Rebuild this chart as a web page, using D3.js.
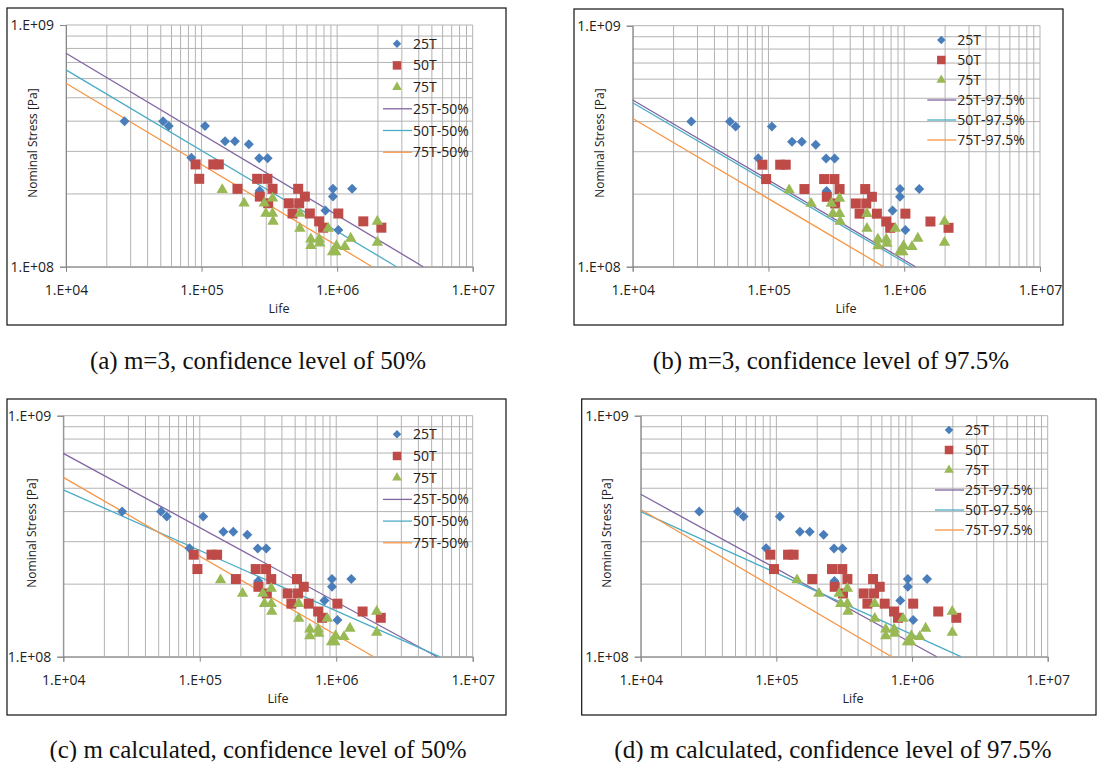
<!DOCTYPE html>
<html><head><meta charset="utf-8">
<script src="https://cdn.jsdelivr.net/npm/d3@7"></script>
<style>body{margin:0;background:#fff}svg{display:block}</style>
</head><body><svg id="c" width="1099" height="762"></svg>
<script>
// ---------------- data ----------------
const seriesNames = ["25T", "50T", "75T"];
const life25T   = [27000, 52000, 57300, 106000, 149000, 176000, 223000, 84100, 266000, 307000, 268000, 931000, 1290000, 931000, 820000, 1020000];
const stress25T = [4.0e8, 4.0e8, 3.82e8, 3.82e8, 3.30e8, 3.30e8, 3.21e8, 2.82e8, 2.81e8, 2.81e8, 2.06e8, 2.10e8, 2.10e8, 1.95e8, 1.71e8, 1.42e8];
const life50T   = [90300, 96100, 122000, 134000, 184000, 257000, 306000, 269000, 334000, 310000, 440000, 469000, 516000, 525000, 578000, 629000, 737000, 788000, 1020000, 1560000, 2120000];
const stress50T = [2.65e8, 2.31e8, 2.65e8, 2.65e8, 2.10e8, 2.31e8, 2.31e8, 1.95e8, 2.10e8, 1.83e8, 1.83e8, 1.66e8, 2.10e8, 1.83e8, 1.95e8, 1.66e8, 1.54e8, 1.45e8, 1.66e8, 1.54e8, 1.45e8];
const life75T   = [142000, 206000, 290000, 334000, 298000, 334000, 337000, 531000, 531000, 640000, 640000, 737000, 745000, 859000, 925000, 978000, 989000, 1140000, 1260000, 1980000, 1980000];
const stress75T = [2.08e8, 1.83e8, 1.83e8, 1.92e8, 1.66e8, 1.66e8, 1.54e8, 1.66e8, 1.44e8, 1.30e8, 1.22e8, 1.30e8, 1.25e8, 1.44e8, 1.15e8, 1.15e8, 1.22e8, 1.21e8, 1.31e8, 1.54e8, 1.26e8];

const fitNames50  = ["25T-50%", "50T-50%", "75T-50%"];
const fitNames975 = ["25T-97.5%", "50T-97.5%", "75T-97.5%"];
// fitted S-N lines: [start point, end point] as [life, stress]
const fitA = [[[1e4, 7.64e8], [4.31e6, 1e8]], [[1e4, 6.52e8], [2.74e6, 1e8]], [[1e4, 5.74e8], [1.81e6, 1e8]]];
const fitB = [[[1e4, 4.92e8], [1.21e6, 1e8]], [[1e4, 4.79e8], [1.14e6, 1e8]], [[1e4, 4.12e8], [7.05e5, 1e8]]];
const fitC = [[[1e4, 6.98e8], [5.47e6, 1e8]], [[1e4, 4.92e8], [5.71e6, 1e8]], [[1e4, 5.55e8], [1.88e6, 1e8]]];
const fitD = [[[1e4, 4.72e8], [1.52e6, 1e8]], [[1e4, 4.00e8], [2.29e6, 1e8]], [[1e4, 4.08e8], [7.08e5, 1e8]]];

const captions = ["(a) m=3, confidence level of 50%", "(b) m=3, confidence level of 97.5%",
                  "(c) m calculated, confidence level of 50%", "(d) m calculated, confidence level of 97.5%"];
const xTickValues = [1e4, 1e5, 1e6, 1e7];
const xTickLabels = ["1.E+04", "1.E+05", "1.E+06", "1.E+07"];
const yTickValues = [1e8, 1e9];
const yTickLabels = ["1.E+08", "1.E+09"];
const xTitle = "Life";
const yTitle = "Nominal Stress [Pa]";

// ---------------- layout & style ----------------
const markerColors = ["#4a7ebb", "#be4b48", "#98b954"];
const lineColors = ["#8064a2", "#4bacc6", "#f79646"];
const font = "'Open Sans', 'Noto Sans', sans-serif";

const panels = [
  {frame: [7, 8, 506, 325],  plot: [66, 25, 472.7, 266.7],   legend: [413, 43.7, 21.7], xT: [279, 313], yT: [33, 143],  cap: [258, 369], fits: fitA, fitNames: fitNames50},
  {frame: [574, 9, 1063, 325], plot: [632.7, 25.7, 1040, 266.7], legend: [957.3, 40, 20], xT: [846, 313], yT: [600, 143], cap: [831, 369], fits: fitB, fitNames: fitNames975},
  {frame: [7, 399, 506, 715], plot: [63.3, 415.7, 472.7, 656.7], legend: [413, 434.3, 21.7], xT: [278, 703], yT: [31.7, 533], cap: [258, 758], fits: fitC, fitNames: fitNames50},
  {frame: [581.7, 399, 1096, 715], plot: [640.7, 415.7, 1047.7, 656.7], legend: [965, 430, 20], xT: [853, 703], yT: [607, 533], cap: [833, 758], fits: fitD, fitNames: fitNames975}
];

const seriesData = [d3.zip(life25T, stress25T), d3.zip(life50T, stress50T), d3.zip(life75T, stress75T)];

const diamond = d3.symbol().type(d3.symbolSquare).size(50);
const square = d3.symbol().type(d3.symbolSquare).size(100);
const triangle = d3.symbol().type(d3.symbolTriangle).size(56);
function markerPath(i) { return i === 0 ? diamond() : i === 1 ? square() : triangle(); }
function markerTransform(i, x, y) { return `translate(${x},${y})` + (i === 0 ? " rotate(45)" : ""); }

const svg = d3.select("#c");

panels.forEach((p, pi) => {
  const g = svg.append("g");
  const [fx0, fy0, fx1, fy1] = p.frame;
  const [px0, py0, px1, py1] = p.plot;
  const x = d3.scaleLog().domain([1e4, 1e7]).range([px0, px1]);
  const y = d3.scaleLog().domain([1e8, 1e9]).range([py1, py0]);

  g.append("rect").attr("x", fx0).attr("y", fy0).attr("width", fx1 - fx0).attr("height", fy1 - fy0)
    .attr("fill", "#fff").attr("stroke", "#111").attr("stroke-width", 1.2);

  // gridlines
  g.append("g").selectAll("line").data(x.ticks()).join("line")
    .attr("x1", d => x(d)).attr("x2", d => x(d)).attr("y1", py0).attr("y2", py1)
    .attr("stroke", "#b3b3b3").attr("stroke-width", 1);
  g.append("g").selectAll("line").data(y.ticks()).join("line")
    .attr("y1", d => y(d)).attr("y2", d => y(d)).attr("x1", px0).attr("x2", px1)
    .attr("stroke", "#b3b3b3").attr("stroke-width", 1);

  // axes
  const xa = g.append("g").attr("transform", `translate(0,${py1})`)
    .call(d3.axisBottom(x).tickValues(xTickValues).tickFormat((d, i) => xTickLabels[i]).tickSize(5).tickPadding(13));
  const ya = g.append("g").attr("transform", `translate(${px0},0)`)
    .call(d3.axisLeft(y).tickValues(yTickValues).tickFormat((d, i) => yTickLabels[i]).tickSize(6).tickPadding(6));
  [xa, ya].forEach(a => {
    a.select(".domain").attr("stroke", "#868686");
    a.selectAll(".tick line").attr("stroke", "#868686");
    a.selectAll(".tick text").attr("font-family", font).attr("font-size", 14).attr("fill", "#222");
  });

  // fitted lines
  p.fits.forEach((pts, i) => {
    g.append("path").datum(pts)
      .attr("d", d3.line().x(d => x(d[0])).y(d => y(d[1])))
      .attr("fill", "none").attr("stroke", lineColors[i]).attr("stroke-width", 1.3);
  });

  // markers
  seriesData.forEach((pts, i) => {
    g.append("g").selectAll("path").data(pts).join("path")
      .attr("d", markerPath(i))
      .attr("transform", d => markerTransform(i, x(d[0]), y(d[1])))
      .attr("fill", markerColors[i]);
  });

  // legend
  const [lx, ly, lstep] = p.legend;
  const legendItems = seriesNames.map((n, i) => ({name: n, kind: "marker", i}))
    .concat(p.fitNames.map((n, i) => ({name: n, kind: "line", i})));
  legendItems.forEach((it, k) => {
    const yy = ly + k * lstep;
    if (it.kind === "marker") {
      g.append("path").attr("d", markerPath(it.i)).attr("transform", markerTransform(it.i, lx - 16, yy) + " scale(0.85)")
        .attr("fill", markerColors[it.i]);
    } else {
      g.append("line").attr("x1", lx - 30).attr("x2", lx - 1).attr("y1", yy).attr("y2", yy)
        .attr("stroke", lineColors[it.i]).attr("stroke-width", 1.3);
    }
    g.append("text").attr("x", lx).attr("y", yy).attr("dy", "0.36em").text(it.name)
      .attr("font-family", font).attr("font-size", 14).attr("fill", "#222");
  });

  // axis titles
  g.append("text").attr("x", p.xT[0]).attr("y", p.xT[1]).attr("text-anchor", "middle").text(xTitle)
    .attr("font-family", font).attr("font-size", 12.5).attr("fill", "#222");
  g.append("text").attr("transform", `translate(${p.yT[0]},${p.yT[1]}) rotate(-90)`).attr("dy", "0.35em")
    .attr("text-anchor", "middle").text(yTitle)
    .attr("font-family", font).attr("font-size", 12).attr("fill", "#222");

  // caption
  svg.append("text").attr("x", p.cap[0]).attr("y", p.cap[1]).attr("text-anchor", "middle").text(captions[pi])
    .attr("font-family", "'Liberation Serif', 'Times New Roman', serif").attr("font-size", 25).attr("fill", "#111");
});
</script></body></html>
